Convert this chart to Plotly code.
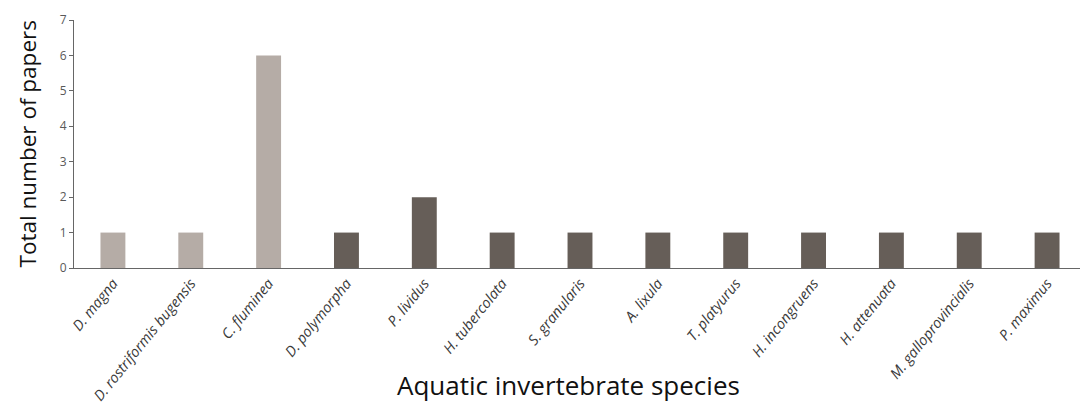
import plotly.graph_objects as go

species = ["D. magna", "D. rostriformis bugensis", "C. fluminea", "D. polymorpha",
           "P. lividus", "H. tubercolata", "S. granularis", "A. lixula",
           "T. platyurus", "H. incongruens", "H. attenuata", "M. galloprovincialis",
           "P. maximus"]
papers = [1, 1, 6, 1, 2, 1, 1, 1, 1, 1, 1, 1, 1]
group = ["fresh", "fresh", "fresh", "marine", "marine", "marine", "marine", "marine",
         "marine", "marine", "marine", "marine", "marine"]
colors_map = {"fresh": "#b5aca6", "marine": "#665e58"}
y_ticks = [0, 1, 2, 3, 4, 5, 6, 7]

fig = go.Figure()
fig.add_trace(go.Bar(
    x=list(range(len(species))), y=papers,
    marker=dict(color=[colors_map[g] for g in group], line=dict(width=0)),
    width=0.32,
))
fig.update_layout(
    width=1080, height=394,
    margin=dict(l=66, r=2, t=12, b=134),
    plot_bgcolor="white", paper_bgcolor="white",
    showlegend=False,
    font=dict(family="Open Sans, sans-serif", color="#595959"),
    annotations=[
        dict(text="Aquatic invertebrate species", xref="paper", yref="paper",
             x=0.489, y=-0.47, xanchor="center", yanchor="middle", showarrow=False,
             font=dict(size=26, color="#111111")),
        dict(text="Total number of papers", xref="paper", yref="paper",
             x=-0.046, y=0.5, xanchor="center", yanchor="middle", textangle=-90,
             showarrow=False, font=dict(size=22.5, color="#111111")),
    ],
)
fig.update_xaxes(
    automargin=False,
    tickmode="array", tickvals=list(range(len(species))),
    ticktext=[f"<i>{s}</i>" for s in species],
    tickangle=-51, tickfont=dict(size=14.5, color="#3a3a3a"),
    range=[-0.5, len(species) - 0.5],
    showline=True, linecolor="#666666", linewidth=1.2, ticks="",
    showgrid=False,
)
fig.update_yaxes(
    automargin=False,
    range=[0, 7], tickvals=y_ticks, showgrid=False, zeroline=False,
    showline=True, linecolor="#666666", linewidth=1.2,
    ticks="outside", ticklen=4, tickcolor="#666666",
    tickfont=dict(size=12, color="#595959"),
)
fig.write_html("out.html")
